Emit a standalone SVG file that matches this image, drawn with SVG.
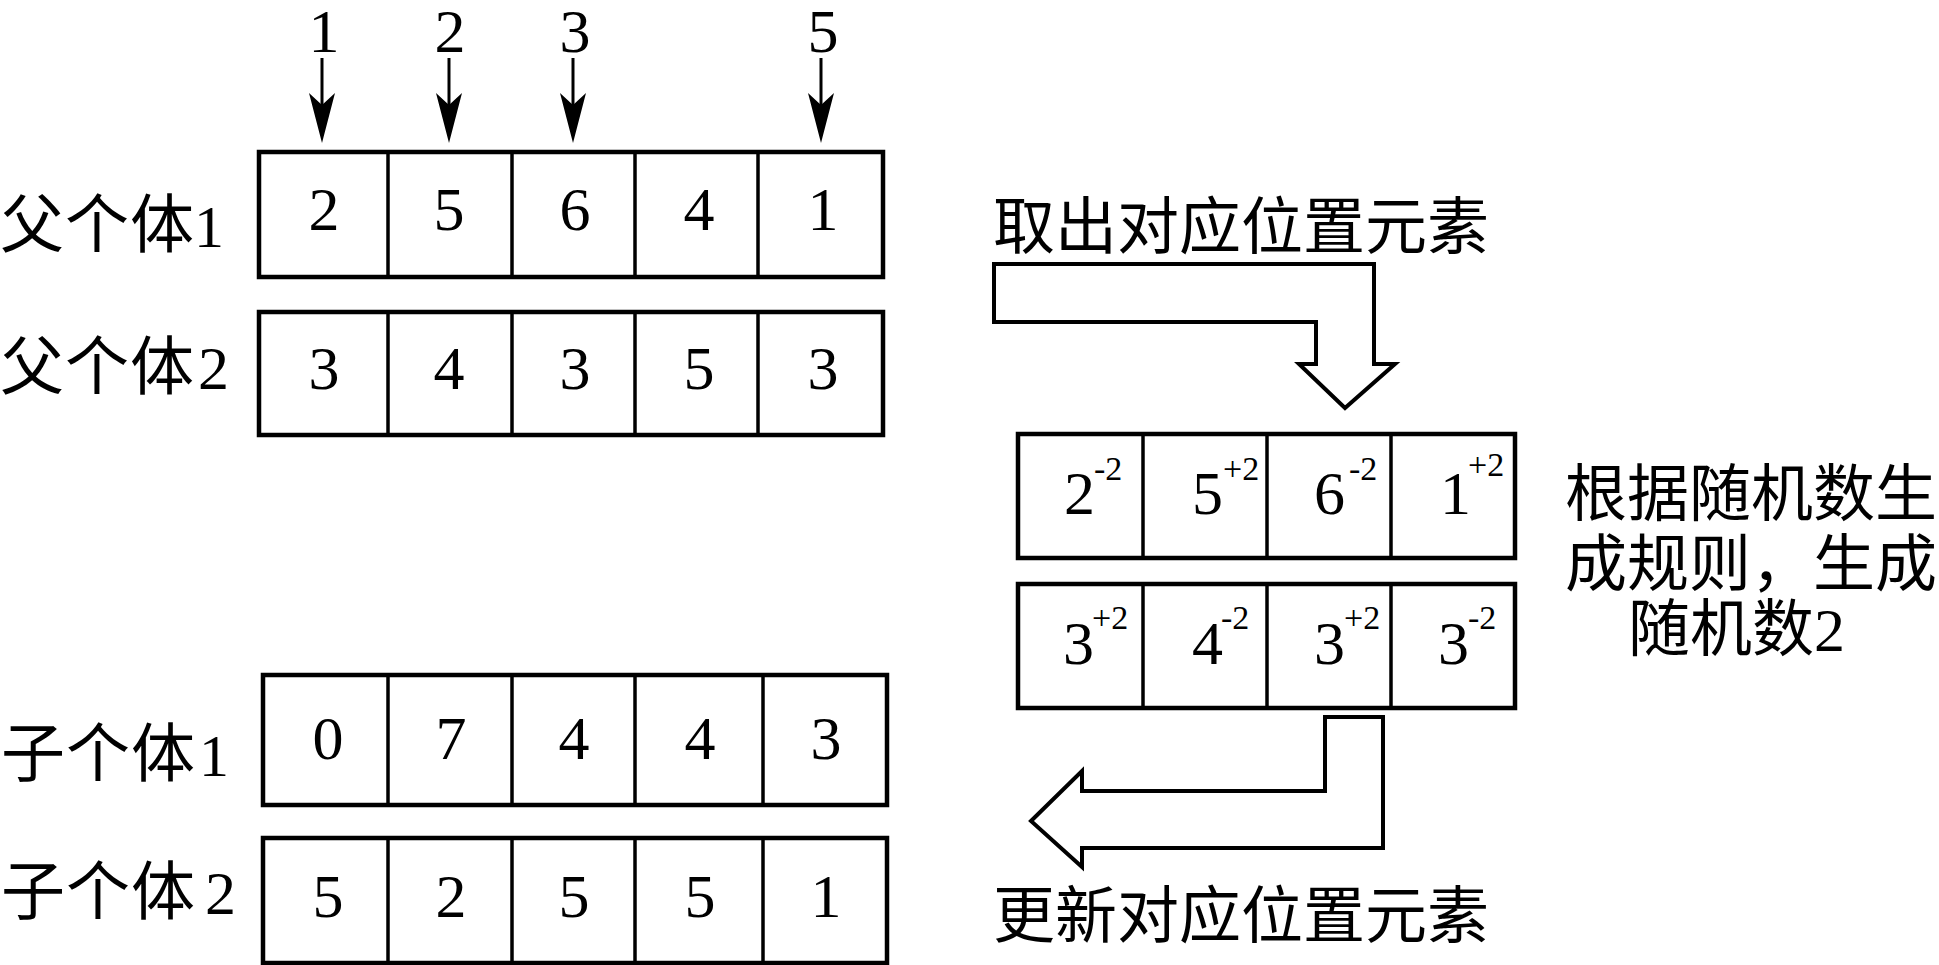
<svg xmlns="http://www.w3.org/2000/svg" width="1939" height="965" viewBox="0 0 1939 965">
<style>
  .box { fill: #fff; stroke: #000; stroke-width: 4.5; }
  .div { stroke: #000; stroke-width: 3.5; }
  .num { font-family: 'Liberation Serif', 'DejaVu Serif', 'Times New Roman', serif; font-size: 62px; fill: #000; }
  .mid { text-anchor: middle; }
  .sup { font-size: 34px; }
  .cjk { font-family: 'Liberation Serif', 'DejaVu Serif', 'Noto Sans CJK SC', serif; font-size: 62px; fill: #000; }
  .lbl { font-family: 'Liberation Serif', 'DejaVu Serif', 'Noto Sans CJK SC', serif; font-size: 64px; letter-spacing: 1px; fill: #000; }
  .ptr { stroke: #000; stroke-width: 3; fill: none; }
  .big { fill: #fff; stroke: #000; stroke-width: 4; stroke-linejoin: miter; }
</style>
<defs>
  <marker id="ah" viewBox="0 0 50 26" markerUnits="userSpaceOnUse" markerWidth="50" markerHeight="26" refX="15" refY="13" orient="auto">
    <path d="M0,0 L50,13 L0,26 L12,13 Z" fill="#000"/>
  </marker>
</defs>
<rect width="1939" height="965" fill="#fff"/>

<g id="labels">
  <text class="lbl" x="0" y="247">父个体<tspan x="194" font-size="60">1</tspan></text>
  <text class="lbl" x="0" y="389">父个体<tspan x="198" font-size="62">2</tspan></text>
  <text class="lbl" x="1" y="776">子个体<tspan x="199" font-size="60">1</tspan></text>
  <text class="lbl" x="1" y="914">子个体<tspan x="205" font-size="62">2</tspan></text>
</g>

<g id="position-markers">
  <text class="num mid" x="324" y="52">1</text>
  <text class="num mid" x="450" y="52">2</text>
  <text class="num mid" x="575" y="52">3</text>
  <text class="num mid" x="823" y="52">5</text>
</g>

<g id="parent1">
  <rect class="box" x="259" y="152" width="624" height="125"/>
  <line class="div" x1="388" y1="152" x2="388" y2="277"/>
  <line class="div" x1="512" y1="152" x2="512" y2="277"/>
  <line class="div" x1="635" y1="152" x2="635" y2="277"/>
  <line class="div" x1="758" y1="152" x2="758" y2="277"/>
  <text class="num mid" x="324" y="230">2</text>
  <text class="num mid" x="449" y="230">5</text>
  <text class="num mid" x="575" y="230">6</text>
  <text class="num mid" x="699" y="230">4</text>
  <text class="num mid" x="823" y="230">1</text>
</g>

<g id="parent2">
  <rect class="box" x="259" y="312" width="624" height="123"/>
  <line class="div" x1="388" y1="312" x2="388" y2="435"/>
  <line class="div" x1="512" y1="312" x2="512" y2="435"/>
  <line class="div" x1="635" y1="312" x2="635" y2="435"/>
  <line class="div" x1="758" y1="312" x2="758" y2="435"/>
  <text class="num mid" x="324" y="389">3</text>
  <text class="num mid" x="449" y="389">4</text>
  <text class="num mid" x="575" y="389">3</text>
  <text class="num mid" x="699" y="389">5</text>
  <text class="num mid" x="823" y="389">3</text>
</g>

<g id="random-row1">
  <rect class="box" x="1018" y="434" width="497" height="124"/>
  <line class="div" x1="1143" y1="434" x2="1143" y2="558"/>
  <line class="div" x1="1267" y1="434" x2="1267" y2="558"/>
  <line class="div" x1="1391" y1="434" x2="1391" y2="558"/>
  <text class="num" x="1064" y="514">2<tspan class="sup" x="1094" y="480">-2</tspan></text>
  <text class="num" x="1192" y="514">5<tspan class="sup" x="1223" y="480">+2</tspan></text>
  <text class="num" x="1314" y="514">6<tspan class="sup" x="1349" y="480">-2</tspan></text>
  <text class="num" x="1440" y="514">1<tspan class="sup" x="1468" y="476">+2</tspan></text>
</g>

<g id="random-row2">
  <rect class="box" x="1018" y="584" width="497" height="124"/>
  <line class="div" x1="1143" y1="584" x2="1143" y2="708"/>
  <line class="div" x1="1267" y1="584" x2="1267" y2="708"/>
  <line class="div" x1="1391" y1="584" x2="1391" y2="708"/>
  <text class="num" x="1063" y="664">3<tspan class="sup" x="1092" y="629">+2</tspan></text>
  <text class="num" x="1192" y="664">4<tspan class="sup" x="1221" y="629">-2</tspan></text>
  <text class="num" x="1314" y="664">3<tspan class="sup" x="1344" y="629">+2</tspan></text>
  <text class="num" x="1438" y="664">3<tspan class="sup" x="1468" y="629">-2</tspan></text>
</g>

<g id="child1">
  <rect class="box" x="263" y="675" width="624" height="130"/>
  <line class="div" x1="388" y1="675" x2="388" y2="805"/>
  <line class="div" x1="512" y1="675" x2="512" y2="805"/>
  <line class="div" x1="635" y1="675" x2="635" y2="805"/>
  <line class="div" x1="763" y1="675" x2="763" y2="805"/>
  <text class="num mid" x="328" y="759">0</text>
  <text class="num mid" x="451" y="759">7</text>
  <text class="num mid" x="574" y="759">4</text>
  <text class="num mid" x="700" y="759">4</text>
  <text class="num mid" x="826" y="759">3</text>
</g>

<g id="child2">
  <rect class="box" x="263" y="838" width="624" height="125"/>
  <line class="div" x1="388" y1="838" x2="388" y2="963"/>
  <line class="div" x1="512" y1="838" x2="512" y2="963"/>
  <line class="div" x1="635" y1="838" x2="635" y2="963"/>
  <line class="div" x1="763" y1="838" x2="763" y2="963"/>
  <text class="num mid" x="328" y="917">5</text>
  <text class="num mid" x="451" y="917">2</text>
  <text class="num mid" x="574" y="917">5</text>
  <text class="num mid" x="700" y="917">5</text>
  <text class="num mid" x="826" y="917">1</text>
</g>

<g id="texts">
  <text class="cjk" x="993" y="249">取出对应位置元素</text>
  <text class="cjk" x="1565" y="516">根据随机数生</text>
  <text class="cjk" x="1565" y="586">成规则，生成</text>
  <text class="cjk" x="1628" y="651">随机数2</text>
  <text class="cjk" x="993" y="938">更新对应位置元素</text>
</g>

<g id="connectors">
  <line class="ptr" x1="322" y1="58" x2="322" y2="108" marker-end="url(#ah)"/>
  <line class="ptr" x1="449" y1="58" x2="449" y2="108" marker-end="url(#ah)"/>
  <line class="ptr" x1="573" y1="58" x2="573" y2="108" marker-end="url(#ah)"/>
  <line class="ptr" x1="821" y1="58" x2="821" y2="108" marker-end="url(#ah)"/>
  <path class="big" d="M994,264 L1374,264 L1374,364 L1395,364 L1345,408 L1299,364 L1316,364 L1316,322 L994,322 Z"/>
  <path class="big" d="M1325,717 L1383,717 L1383,848 L1082,848 L1082,867 L1031,821 L1082,771 L1082,791 L1325,791 Z"/>
</g>
</svg>
